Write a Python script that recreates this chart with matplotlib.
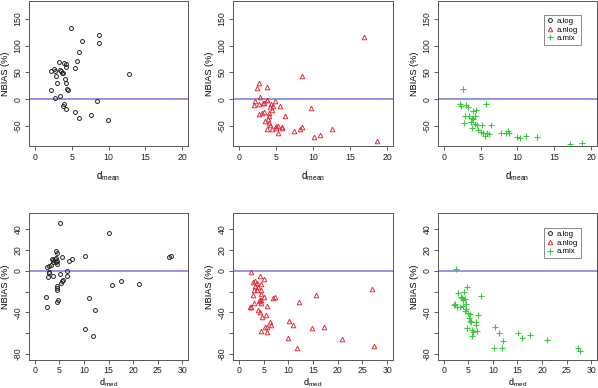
import matplotlib
matplotlib.use("Agg")
import matplotlib.pyplot as plt
from matplotlib.lines import Line2D

plt.rcParams['font.family'] = ['Liberation Sans', 'DejaVu Sans']
plt.rcParams['mathtext.fontset'] = 'custom'
plt.rcParams['mathtext.rm'] = 'Liberation Sans'
plt.rcParams['mathtext.it'] = 'Liberation Sans'

# ---------------- data: top row (x = d_mean) ----------------
dmean_log = [4.92, 8.71, 8.71, 6.37, 5.96, 5.73, 5.42, 3.34, 4.02, 4.29, 4.24, 3.43, 3.57, 3.70,
             3.88, 2.21, 2.53, 2.80, 2.89, 4.15, 4.20, 2.94, 2.17, 4.33, 4.51, 3.43, 2.80, 8.44,
             12.73, 3.93, 3.88, 4.24, 5.42, 7.67, 6.05, 9.89]
nbias_mean_log = [133.7, 120.0, 106.0, 108.6, 88.5, 71.0, 57.8, 69.7, 68.4, 65.3, 61.0, 54.6, 52.0,
                  49.6, 48.3, 53.4, 55.9, 53.4, 43.3, 37.0, 29.5, 30.8, 17.0, 19.5, 16.3, 5.6, 1.9,
                  -4.4, 47.7, -10.0, -12.6, -18.8, -24.5, -29.5, -35.8, -38.9]

dmean_nlog = [16.92, 8.53, 2.77, 2.41, 3.75, 2.86, 3.75, 3.84, 4.87, 2.14, 2.05, 2.72, 3.26, 3.40,
              4.33, 4.55, 4.20, 4.46, 4.10, 3.40, 3.13, 2.68, 5.58, 6.20, 9.73, 4.02, 3.88, 3.53,
              4.10, 4.24, 5.04, 5.27, 5.76, 5.85, 3.75, 4.42, 5.00, 5.31, 7.50, 8.30, 8.53, 10.13,
              11.00, 12.54, 18.60]
nbias_mean_nlog = [117.4, 43.3, 30.0, 20.7, 23.2, 3.8, -1.3, -2.5, -3.8, -4.4, -11.3, -8.8, -8.2,
                   -6.9, -8.8, -13.2, -15.0, -20.7, -25.7, -24.5, -27.0, -28.9, -12.6, -30.8, -17.6,
                   -32.6, -37.7, -41.4, -45.2, -47.7, -50.8, -49.6, -51.5, -53.4, -56.5, -56.5,
                   -54.0, -62.8, -59.0, -55.2, -52.7, -71.0, -67.8, -56.5, -78.5]

dmean_mix = [2.57, 5.72, 2.25, 2.39, 2.97, 3.33, 2.88, 2.79, 3.47, 3.74, 3.92, 3.83, 4.01, 4.19,
             4.37, 3.87, 4.28, 4.46, 4.64, 5.00, 5.20, 5.36, 5.54, 5.90, 6.08, 6.40, 7.75, 8.50,
             8.74, 8.82, 9.99, 10.40, 11.17, 12.70, 17.20, 18.83]
nbias_mean_mix = [19.5, -8.8, -9.4, -13.8, -11.3, -15.0, -30.8, -44.6, -32.6, -42.7, -23.2, -35.0,
                  -37.0, -32.6, -21.3, -54.0, -46.5, -49.0, -58.4, -61.0, -47.7, -64.0, -68.4,
                  -63.4, -64.6, -47.7, -62.8, -62.8, -60.3, -63.4, -71.0, -73.4, -69.0, -71.0,
                  -84.7, -82.9]

# ---------------- data: bottom row (x = d_med) ----------------
dmed_log = [5.20, 15.00, 27.30, 27.70, 10.27, 5.54, 4.32, 4.60, 7.57, 6.90, 3.45, 3.78, 4.05, 4.32,
            4.46, 3.72, 4.26, 4.60, 3.38, 2.90, 2.43, 2.84, 2.97, 2.70, 3.65, 5.20, 6.49, 6.49,
            5.54, 5.81, 5.27, 4.53, 4.46, 4.59, 4.80, 4.53, 2.23, 2.50, 11.08, 12.16, 15.81,
            17.57, 21.20, 10.14, 11.90]
nbias_med_log = [45.8, 36.2, 12.8, 14.1, 14.4, 13.4, 18.6, 17.3, 10.9, 9.0, 10.9, 10.6, 11.5, 12.2,
                 9.6, 8.0, 8.0, 6.4, 5.4, 4.5, 3.8, -1.0, -2.2, -6.4, -4.8, -3.2, 0.0, -5.1, -10.2,
                 -9.3, -11.8, -14.7, -16.6, -18.9, -27.8, -29.8, -25.6, -34.9, -25.9, -37.8,
                 -14.1, -9.6, -12.8, -56.3, -62.4]

dmed_nlog = [2.35, 4.30, 5.10, 2.82, 3.30, 3.56, 4.50, 3.30, 3.77, 2.96, 3.63, 4.57, 2.76, 4.37,
             4.98, 6.86, 7.40, 4.24, 4.50, 4.10, 4.44, 3.09, 2.15, 2.42, 5.65, 3.83, 4.17, 5.45,
             4.64, 6.39, 6.46, 5.18, 5.78, 4.57, 5.65, 10.09, 11.03, 12.10, 15.60, 14.86, 17.28,
             26.97, 9.89, 11.70, 20.90, 27.44]
nbias_med_nlog = [-1.0, -5.1, -8.3, -10.9, -9.9, -11.5, -12.5, -14.7, -16.0, -18.2, -18.6, -18.6,
                  -23.4, -22.7, -25.3, -25.9, -24.9, -28.2, -27.8, -28.8, -31.4, -30.7, -34.6,
                  -34.6, -33.9, -37.8, -39.7, -42.2, -44.2, -49.3, -51.8, -53.8, -54.4, -58.2,
                  -59.2, -48.0, -52.2, -30.4, -23.0, -55.4, -53.8, -17.6, -64.6, -74.2, -65.9,
                  -72.3]

dmed_mix = [2.50, 4.66, 7.57, 2.97, 3.45, 3.72, 3.99, 4.39, 4.12, 4.53, 3.85, 3.38, 2.36, 2.16,
            2.77, 4.59, 4.39, 4.93, 5.34, 5.20, 5.27, 5.47, 6.96, 6.55, 6.62, 4.73, 5.81, 5.81,
            5.95, 6.69, 10.34, 11.15, 12.03, 10.20, 11.90, 15.07, 15.88, 17.64, 21.08, 27.23,
            27.70]
nbias_med_mix = [1.6, -15.4, -24.3, -21.8, -25.6, -26.2, -28.2, -27.5, -20.5, -32.0, -33.6, -34.6,
                 -32.0, -32.6, -35.2, -36.8, -39.0, -40.3, -41.6, -45.4, -48.0, -49.3, -42.2, -49.3,
                 -52.5, -55.0, -57.0, -62.4, -58.6, -57.6, -54.4, -59.8, -67.5, -73.9, -73.9,
                 -59.5, -64.3, -61.8, -66.6, -74.2, -77.4]

legend_labels = ["a.log", "a.nlog", "a.mix"]
top_xticks = [0, 5, 10, 15, 20]
top_yticks = [-50, 0, 50, 100, 150]
bot_xticks = [0, 5, 10, 15, 20, 25, 30]
bot_yticks = [-80, -60, -40, -20, 0, 20, 40]
bot_ytick_labels = ["-80", "", "-40", "", "0", "20", "40"]

# ---------------- styling ----------------
COL_LOG = "#222222"
COL_NLOG = "#E2303F"
COL_MIX = "#3CC83C"
HLINE = "#8C8CE6"
styles = [
    dict(marker='o', mfc='none', mec=COL_LOG, ms=2.8, mew=0.7, ls='none'),
    dict(marker='^', mfc='none', mec=COL_NLOG, ms=3.3, mew=0.7, ls='none'),
    dict(marker='+', color=COL_MIX, ms=4.5, mew=0.8, ls='none'),
]

W, H = 598, 388
fig = plt.figure(figsize=(W / 100, H / 100), dpi=100)

cols_px = [(29, 188), (233, 393), (438, 597)]
rows_px = [(1, 146), (213, 360)]


def make_ax(col, row):
    l, r = cols_px[col]
    t, b = rows_px[row]
    return fig.add_axes([l / W, 1 - b / H, (r - l) / W, (b - t) / H])


def style_ax(ax, xticks, yticks, ylabels, xlim, ylim, xlabel, xlabelpad, xlabelsize, xtickpad):
    ax.set_xlim(*xlim)
    ax.set_ylim(*ylim)
    ax.set_xticks(xticks)
    ax.set_yticks(yticks)
    ax.set_yticklabels(ylabels, rotation=90, va='center')
    ax.tick_params(axis='both', labelsize=6.3, length=3, width=0.6, pad=2,
                   color='#444444', labelcolor='#222222')
    ax.tick_params(axis='y', pad=1.5)
    ax.tick_params(axis='x', pad=xtickpad)
    for s in ax.spines.values():
        s.set_linewidth(0.7)
        s.set_color('#555555')
    ax.set_ylabel("NBIAS (%)", fontsize=6.6, labelpad=3)
    ax.set_xlabel(xlabel, fontsize=xlabelsize, labelpad=xlabelpad)
    ax.axhline(0, color=HLINE, lw=1.3, zorder=1)


def add_legend(ax, y_anchor):
    handles = [Line2D([], [], **s) for s in styles]
    leg = ax.legend(handles, legend_labels, loc='upper left', bbox_to_anchor=(0.667, y_anchor),
                    fontsize=5.6, frameon=True, fancybox=False, handlelength=0.8,
                    handletextpad=0.5, borderpad=0.35, labelspacing=0.15, borderaxespad=0)
    leg.get_frame().set_edgecolor('#555555')
    leg.get_frame().set_linewidth(0.6)


top_data = [(dmean_log, nbias_mean_log), (dmean_nlog, nbias_mean_nlog), (dmean_mix, nbias_mean_mix)]
bot_data = [(dmed_log, nbias_med_log), (dmed_nlog, nbias_med_nlog), (dmed_mix, nbias_med_mix)]

for i in range(3):
    ax = make_ax(i, 0)
    x, y = top_data[i]
    ax.plot(x, y, **styles[i], zorder=3)
    style_ax(ax, top_xticks, top_yticks, [str(v) for v in top_yticks],
             (-0.8, 20.8), (-88, 184), r"$\mathrm{d}_{\mathrm{mean}}$", 5, 7, 2)
    if i == 2:
        add_legend(ax, 0.905)

for i in range(3):
    ax = make_ax(i, 1)
    x, y = bot_data[i]
    ax.plot(x, y, **styles[i], zorder=3)
    style_ax(ax, bot_xticks, bot_yticks, bot_ytick_labels,
             (-1.2, 31.2), (-85.8, 55.5), r"$\mathrm{d}_{\mathrm{med}}$", 0.6, 6.6, 1.6)
    if i == 2:
        add_legend(ax, 0.898)

fig.savefig("out.png", dpi=100)
